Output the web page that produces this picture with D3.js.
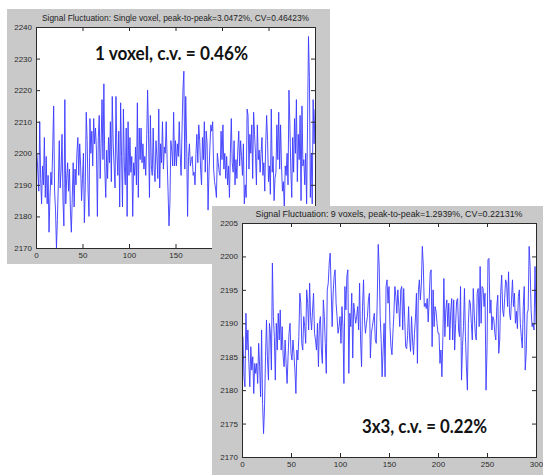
<!DOCTYPE html>
<html>
<head>
<meta charset="utf-8">
<script src="https://cdn.jsdelivr.net/npm/d3@7"></script>
<style>
  body { margin: 0; background: #fff; }
  svg { display: block; }
  .tick text { font-family: "Liberation Sans", Arial, sans-serif; font-size: 8px; fill: #2b2b2b; }
  .tick line { stroke: #2b2b2b; }
</style>
</head>
<body>
<svg id="chart" width="543" height="475"></svg>
<script>
// signal over 300 time points
const singleVoxel = [
  2200, 2194, 2188, 2210, 2192, 2184, 2196, 2190, 2205, 2186,
  2199, 2184, 2193, 2175, 2186, 2194, 2190, 2202, 2215, 2188,
  2182, 2170, 2179, 2190, 2204, 2189, 2195, 2206, 2185, 2177,
  2217, 2184, 2192, 2197, 2188, 2195, 2182, 2175, 2186, 2197,
  2183, 2195, 2190, 2200, 2205, 2193, 2203, 2196, 2185, 2192,
  2200, 2178, 2190, 2213, 2204, 2188, 2180, 2211, 2200, 2207,
  2196, 2211, 2203, 2208, 2201, 2180, 2205, 2212, 2192, 2203,
  2217, 2198, 2222, 2195, 2186, 2201, 2192, 2205, 2197, 2210,
  2191, 2218, 2203, 2196, 2189, 2218, 2200, 2193, 2207, 2183,
  2216, 2199, 2183, 2214, 2196, 2190, 2208, 2180, 2210, 2193,
  2205, 2194, 2199, 2180, 2197, 2193, 2202, 2190, 2216, 2186,
  2208, 2198, 2208, 2197, 2203, 2195, 2199, 2193, 2204, 2220,
  2206, 2186, 2212, 2196, 2193, 2208, 2195, 2191, 2204, 2199,
  2192, 2214, 2189, 2203, 2197, 2210, 2195, 2202, 2200, 2210,
  2198, 2188, 2177, 2184, 2204, 2201, 2196, 2213, 2196, 2204,
  2196, 2203, 2199, 2210, 2200, 2193, 2207, 2220, 2226, 2195,
  2218, 2203, 2180, 2199, 2203, 2196, 2198, 2199, 2193, 2194,
  2190, 2200, 2206, 2197, 2209, 2204, 2195, 2190, 2205, 2198,
  2210, 2194, 2207, 2203, 2182, 2194, 2202, 2209, 2207, 2210,
  2195, 2191, 2189, 2186, 2200, 2197, 2194, 2193, 2207, 2198,
  2209, 2195, 2200, 2192, 2199, 2190, 2196, 2186, 2200, 2211,
  2197, 2194, 2204, 2190, 2198, 2192, 2201, 2207, 2196, 2204,
  2199, 2193, 2203, 2184, 2190, 2186, 2214, 2212, 2195, 2206,
  2200, 2209, 2192, 2213, 2206, 2200, 2190, 2209, 2198, 2201,
  2194, 2200, 2205, 2193, 2197, 2188, 2203, 2212, 2204, 2191,
  2196, 2187, 2214, 2194, 2199, 2185, 2192, 2194, 2209, 2198,
  2213, 2195, 2209, 2196, 2188, 2191, 2182, 2196, 2193, 2200,
  2190, 2220, 2209, 2195, 2186, 2205, 2194, 2211, 2200, 2217,
  2191, 2206, 2198, 2212, 2185, 2215, 2196, 2198, 2190, 2200,
  2184, 2209, 2237, 2224, 2186, 2200, 2184, 2217, 2203, 2214
];

const nineVoxels = [
  2188, 2182, 2180.5, 2191.5, 2186, 2189, 2184, 2180.5, 2186.5, 2183,
  2185, 2179.5, 2184, 2182.5, 2184, 2181, 2187, 2183.5, 2179, 2189,
  2178, 2173.5, 2177.5, 2185, 2190.5, 2184.5, 2181.5, 2190, 2188.5, 2183,
  2199, 2191, 2188, 2181.5, 2190, 2186, 2191.5, 2187.5, 2192, 2186,
  2189.5, 2185, 2183.5, 2187.5, 2184, 2181, 2185, 2188.5, 2190, 2185.5,
  2184.5, 2187.5, 2185.5, 2183, 2179.5, 2186, 2184.5, 2188, 2194.5, 2193,
  2187, 2186, 2191, 2189.5, 2187, 2195, 2193, 2189, 2196, 2191,
  2189, 2192, 2194.5, 2188.5, 2187.5, 2186, 2190, 2183.5, 2190, 2191,
  2186, 2184, 2193.5, 2191, 2187, 2182.5, 2195, 2196, 2199, 2200.5,
  2195, 2189.5, 2194.5, 2197, 2198, 2193, 2191, 2188.5, 2189.5, 2191,
  2187, 2192.5, 2189.5, 2181, 2195.5, 2192, 2197, 2198, 2182.5, 2191.5,
  2189.5, 2194.5, 2184.8, 2193, 2191.5, 2190, 2191, 2192.5, 2189, 2196,
  2187.5, 2183.5, 2192.5, 2196.5, 2190.5, 2188.5, 2190, 2191, 2193.5, 2194.5,
  2184.8, 2188.5, 2189.5, 2190.5, 2191.5, 2187.5, 2187, 2193.5, 2201.8, 2198.5,
  2191, 2187.5, 2182, 2186, 2190, 2182, 2195.5, 2196.5, 2193, 2195.5,
  2189.5, 2186.5, 2185.3, 2188.5, 2191.5, 2195.5, 2194, 2191.5, 2195, 2192.5,
  2189.5, 2195, 2195.5, 2189, 2195.2, 2190.8, 2186.5, 2186.2, 2188.2, 2192.5,
  2187.7, 2185.8, 2191, 2187.5, 2185.3, 2188.5, 2190.8, 2194.5, 2184, 2195,
  2196.5, 2193.5, 2195.8, 2201.5, 2198.7, 2192.5, 2193, 2192.2, 2193.7, 2190.2,
  2193.5, 2197.5, 2198, 2186.5, 2195, 2189.5, 2192.5, 2191.8, 2190, 2188.5,
  2188.5, 2184, 2186, 2182, 2188, 2196.7, 2188, 2192, 2193.5, 2189.5,
  2193, 2187.5, 2191.8, 2193.7, 2187.5, 2193.5, 2186, 2190, 2193.3, 2193.7,
  2189, 2188, 2195.5, 2181.5, 2186.5, 2189.5, 2195.2, 2188, 2183.5, 2180,
  2190, 2193.5, 2193, 2190, 2187.5, 2195.2, 2191.5, 2188.5, 2187.5, 2194.5,
  2195.2, 2189.5, 2198.5, 2190, 2195.5, 2195.2, 2192.5, 2194.5, 2180, 2186,
  2199.5, 2199.7, 2191.5, 2193.5, 2189, 2191, 2190.5, 2188.5, 2187.5, 2192.5,
  2194.2, 2185.5, 2187.5, 2194.7, 2197.2, 2192, 2191, 2193.7, 2196.5, 2196,
  2192.5, 2197.7, 2191.5, 2190.5, 2193.5, 2196.5, 2192.5, 2194.5, 2190, 2191.8,
  2189.2, 2194, 2195, 2190, 2188, 2186.3, 2192.5, 2195.5, 2183, 2185.5,
  2191.5, 2192, 2201.5, 2198.5, 2192, 2189.5, 2190, 2189, 2198.5, 2190
];

const xTicks = [0, 50, 100, 150, 200, 250, 300];
const yTicksSingle = [2170, 2180, 2190, 2200, 2210, 2220, 2230, 2240];
const yTicksNine = [2170, 2175, 2180, 2185, 2190, 2195, 2200, 2205];

const titleSingle = "Signal Fluctuation: Single voxel, peak-to-peak=3.0472%, CV=0.46423%";
const titleNine = "Signal Fluctuation: 9 voxels, peak-to-peak=1.2939%, CV=0.22131%";
const noteSingle = "1 voxel, c.v. = 0.46%";
const noteNine = "3x3, c.v. = 0.22%";

const svg = d3.select("#chart");

function drawWindow(cfg) {
  const g = svg.append("g");

  // grey figure background
  g.append("rect")
    .attr("x", cfg.win[0]).attr("y", cfg.win[1])
    .attr("width", cfg.win[2]).attr("height", cfg.win[3])
    .attr("fill", "#c9c9c9");

  const x = d3.scaleLinear().domain([0, 300]).range([cfg.left, cfg.right]);
  const y = d3.scaleLinear().domain(cfg.yDomain).range([cfg.bottom, cfg.top]);

  g.append("rect")
    .attr("x", cfg.left).attr("y", cfg.top)
    .attr("width", cfg.right - cfg.left).attr("height", cfg.bottom - cfg.top)
    .attr("fill", "#fff");

  const clipId = "clip-" + cfg.id;
  g.append("clipPath").attr("id", clipId)
    .append("rect")
    .attr("x", cfg.left).attr("y", cfg.top)
    .attr("width", cfg.right - cfg.left).attr("height", cfg.bottom - cfg.top);

  const line = d3.line()
    .x((d, i) => x(i + 1))
    .y((d) => y(d));

  g.append("path")
    .datum(cfg.values)
    .attr("clip-path", `url(#${clipId})`)
    .attr("fill", "none")
    .attr("stroke", "#3a3aff")
    .attr("stroke-width", 0.9)
    .attr("d", line);

  // labels that sit under the other window are left out
  const xLabel = (d) => (x(d) < cfg.labelMaxX ? d : "");

  // matlab style: ticks point inwards on all four sides
  const bottom = g.append("g")
    .attr("transform", `translate(0,${cfg.bottom})`)
    .call(d3.axisBottom(x).tickValues(xTicks).tickSizeInner(-4).tickSizeOuter(0).tickPadding(4).tickFormat(xLabel));
  const left = g.append("g")
    .attr("transform", `translate(${cfg.left},0)`)
    .call(d3.axisLeft(y).tickValues(cfg.yTicks).tickSizeInner(-4).tickSizeOuter(0).tickPadding(4).tickFormat(d3.format("d")));
  const top = g.append("g")
    .attr("transform", `translate(0,${cfg.top})`)
    .call(d3.axisTop(x).tickValues(xTicks).tickSizeInner(-4).tickSizeOuter(0).tickFormat(""));
  const right = g.append("g")
    .attr("transform", `translate(${cfg.right},0)`)
    .call(d3.axisRight(y).tickValues(cfg.yTicks).tickSizeInner(-4).tickSizeOuter(0).tickFormat(""));
  [bottom, left, top, right].forEach((a) => a.select(".domain").remove());

  g.append("rect")
    .attr("x", cfg.left + 0.5).attr("y", cfg.top + 0.5)
    .attr("width", cfg.right - cfg.left).attr("height", cfg.bottom - cfg.top)
    .attr("fill", "none")
    .attr("stroke", "#2b2b2b")
    .attr("stroke-width", 1);

  g.append("text")
    .attr("x", (cfg.left + cfg.right) / 2)
    .attr("y", cfg.top - 6)
    .attr("text-anchor", "middle")
    .attr("textLength", 267)
    .attr("lengthAdjust", "spacingAndGlyphs")
    .style("font-family", "'Liberation Sans', Arial, sans-serif")
    .style("font-size", "8.5px")
    .style("fill", "#222")
    .text(cfg.title);

  g.append("text")
    .attr("x", cfg.note[0])
    .attr("y", cfg.note[1])
    .attr("textLength", cfg.note[2])
    .attr("lengthAdjust", "spacingAndGlyphs")
    .style("font-family", "Lato, 'Open Sans', sans-serif")
    .style("font-weight", "bold")
    .style("font-size", "18px")
    .style("fill", "#111")
    .text(cfg.noteText);
}

drawWindow({
  id: "single",
  win: [7, 9, 323, 255],
  left: 36, right: 315, top: 27, bottom: 248,
  yDomain: [2170, 2240],
  yTicks: yTicksSingle,
  labelMaxX: 205,
  values: singleVoxel,
  title: titleSingle,
  note: [95, 60, 153],
  noteText: noteSingle
});

drawWindow({
  id: "nine",
  win: [212, 206, 331, 269],
  left: 242, right: 536, top: 223, bottom: 457,
  yDomain: [2170, 2205],
  yTicks: yTicksNine,
  labelMaxX: 543,
  values: nineVoxels,
  title: titleNine,
  note: [362, 433, 125],
  noteText: noteNine
});
</script>
</body>
</html>
